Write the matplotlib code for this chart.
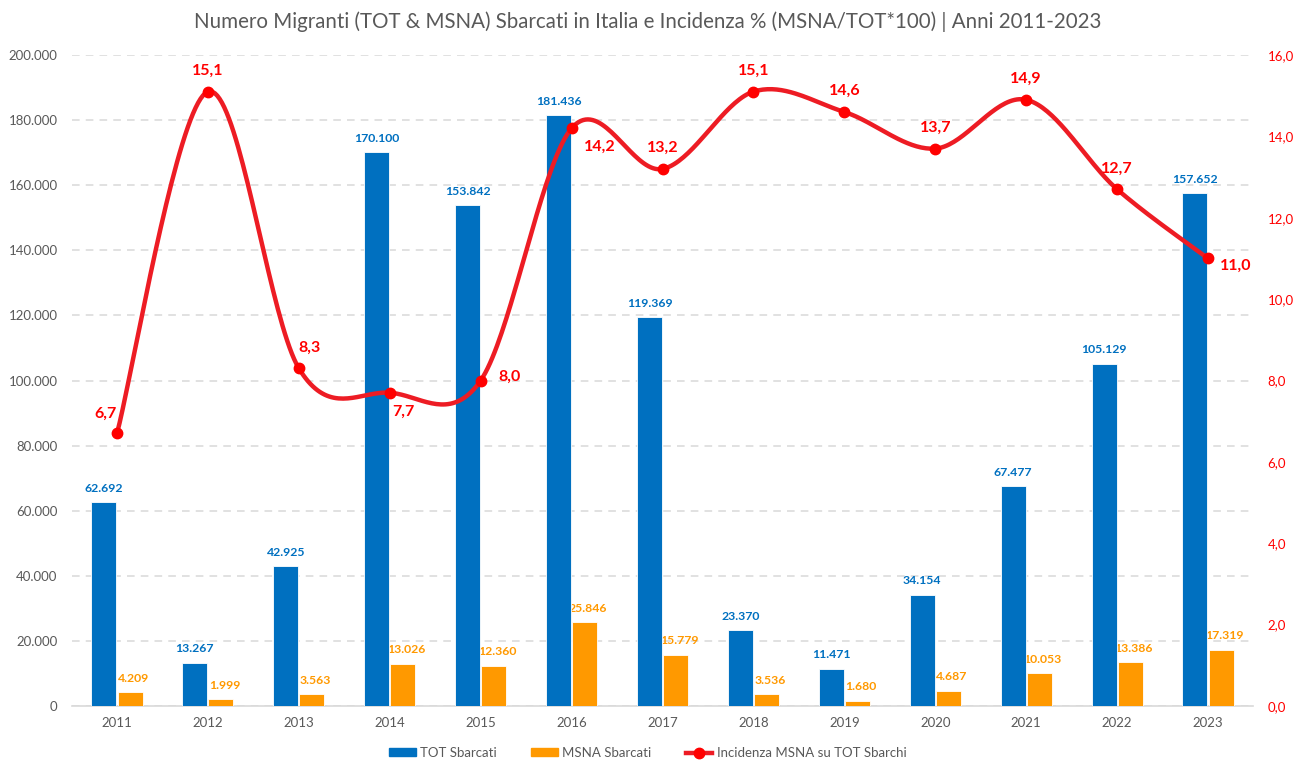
import matplotlib
matplotlib.use("Agg")
import matplotlib.pyplot as plt
from matplotlib.lines import Line2D
from matplotlib.patches import Patch
import numpy as np

plt.rcParams['font.family'] = ['Lato', 'DejaVu Sans']

years = ["2011", "2012", "2013", "2014", "2015", "2016", "2017",
         "2018", "2019", "2020", "2021", "2022", "2023"]
tot_sbarcati = [62692, 13267, 42925, 170100, 153842, 181436, 119369,
                23370, 11471, 34154, 67477, 105129, 157652]
msna_sbarcati = [4209, 1999, 3563, 13026, 12360, 25846, 15779,
                 3536, 1680, 4687, 10053, 13386, 17319]
incidenza = [6.7, 15.1, 8.3, 7.7, 8.0, 14.2, 13.2, 15.1, 14.6, 13.7, 14.9, 12.7, 11.0]

# label placement for the line (offset in points)
line_label_offsets = [(-8, 14), (0, 15), (8, 15), (10, -14), (21, 3), (20, -13), (0, 15),
                      (0, 15), (0, 15), (0, 15), (0, 15), (0, 15), (20, -5)]

BLUE = "#0070C0"
ORANGE = "#FF9900"
RED = "#ED1C24"
GRAY = "#595959"
GRID = "#D9D9D9"

def it_int(v):
    return f"{v:,}".replace(",", ".")

def it_dec(v):
    return f"{v:.1f}".replace(".", ",")

fig = plt.figure(figsize=(12.96, 7.62), dpi=100)
ax = fig.add_axes([0.0552, 0.0735, 0.912, 0.8543])
ax2 = ax.twinx()

x = np.arange(len(years))
w = 0.275
ax.bar(x - w / 2 - 0.006, tot_sbarcati, width=w, color=BLUE, edgecolor="white",
       linewidth=0.6, zorder=3)
ax.bar(x + w / 2 + 0.006, msna_sbarcati, width=w, color=ORANGE, edgecolor="white",
       linewidth=0.6, zorder=3)

for xi, v in zip(x - w / 2 - 0.006, tot_sbarcati):
    ax.annotate(it_int(v), (xi, v), xytext=(0, 6), textcoords="offset points",
                ha="center", va="bottom", fontsize=8.8, fontweight="bold", color=BLUE, zorder=4)
for xi, v in zip(x + w / 2 + 0.006, msna_sbarcati):
    ax.annotate(it_int(v), (xi, v), xytext=(2.5, 6), textcoords="offset points",
                ha="center", va="bottom", fontsize=8.8, fontweight="bold", color=ORANGE, zorder=2)

ax.set_xlim(-0.5, len(years) - 0.5)
ax.set_ylim(0, 200000)
ax.set_yticks(np.arange(0, 200001, 20000))
ax.set_yticklabels([it_int(int(t)) for t in np.arange(0, 200001, 20000)])
ax.set_xticks(x)
ax.set_xticklabels(years)
ax.tick_params(axis="both", length=0, labelsize=9.5, colors=GRAY)
ax.tick_params(axis="y", pad=10)
ax.tick_params(axis="x", pad=8)
ax.grid(axis="y", color=GRID, linestyle=(0, (5, 4)), linewidth=1.1, zorder=0)
ax.set_axisbelow(True)
for s in ["top", "right", "left"]:
    ax.spines[s].set_visible(False)
ax.spines["bottom"].set_color(GRID)
ax.spines["bottom"].set_linewidth(1.2)

# smooth line (Excel-like Catmull-Rom Bezier)
px = x.astype(float)
py = np.array(incidenza, dtype=float)
n = len(px)
sx, sy = [], []
t = np.linspace(0, 1, 40)
for i in range(n - 1):
    p0 = np.array([px[max(i - 1, 0)], py[max(i - 1, 0)]])
    p1 = np.array([px[i], py[i]])
    p2 = np.array([px[i + 1], py[i + 1]])
    p3 = np.array([px[min(i + 2, n - 1)], py[min(i + 2, n - 1)]])
    c1 = p1 + (p2 - p0) / 6
    c2 = p2 - (p3 - p1) / 6
    for tt in t:
        pt = ((1 - tt) ** 3) * p1 + 3 * ((1 - tt) ** 2) * tt * c1 + 3 * (1 - tt) * tt ** 2 * c2 + tt ** 3 * p2
        sx.append(pt[0]); sy.append(pt[1])
ax2.plot(sx, sy, color=RED, linewidth=3.2, zorder=5, solid_capstyle="round")
ax2.plot(px, py, linestyle="none", marker="o", markersize=7.5, color="#FF0000", zorder=6)
for xi, v, off in zip(px, py, line_label_offsets):
    ax2.annotate(it_dec(v), (xi, v), xytext=off, textcoords="offset points",
                 ha="center", va="center", fontsize=11.5, fontweight="bold", color="#FF0000", zorder=7)

ax2.set_ylim(0, 16)
ax2.set_yticks(np.arange(0, 16.1, 2))
ax2.set_yticklabels([it_dec(v) for v in np.arange(0, 16.1, 2)])
ax2.tick_params(axis="y", length=0, labelsize=9.5, colors="#FF0000", pad=10)
for s in ["top", "right", "left", "bottom"]:
    ax2.spines[s].set_visible(False)

fig.text(0.5, 0.972, "Numero Migranti (TOT & MSNA) Sbarcati in Italia e Incidenza % (MSNA/TOT*100) | Anni 2011-2023",
         ha="center", va="center", fontsize=14.8, color=GRAY)

handles = [Patch(facecolor=BLUE, edgecolor=BLUE),
           Patch(facecolor=ORANGE, edgecolor=ORANGE),
           Line2D([0], [0], color=RED, linewidth=3.2, marker="o", markersize=7.5,
                  markerfacecolor="#FF0000", markeredgecolor="#FF0000")]
fig.legend(handles, ["TOT Sbarcati", "MSNA Sbarcati", "Incidenza MSNA su TOT Sbarchi"],
           loc="center", bbox_to_anchor=(0.5, 0.012), ncol=3, frameon=False,
           fontsize=9.5, labelcolor=GRAY, handlelength=2.0, handleheight=0.5,
           columnspacing=2.6, handletextpad=0.35)

fig.savefig("out.png", dpi=100)
